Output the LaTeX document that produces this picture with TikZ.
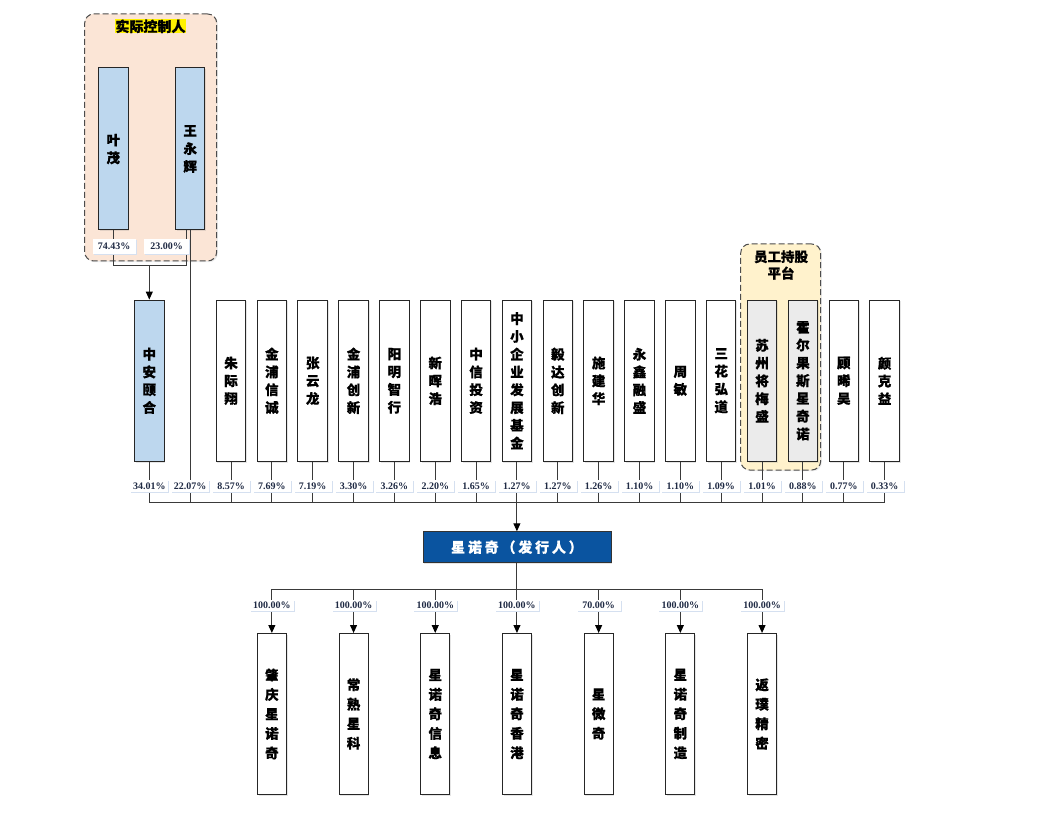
\documentclass[tikz,border=0pt]{standalone}
\usepackage{fontspec}
\setmainfont{Liberation Serif}
\newfontfamily\cjk{Noto Sans CJK SC}[BoldFeatures={FakeBold=0.6}]
\usetikzlibrary{arrows.meta,shadows}
\definecolor{ctrlbg}{HTML}{FBE5D6}
\definecolor{ltblue}{HTML}{BDD7EE}
\definecolor{esopbg}{HTML}{FFF2CC}
\definecolor{gbox}{HTML}{EBEBEB}
\definecolor{issuer}{HTML}{0A54A0}
\definecolor{lnc}{HTML}{3A3A3A}
\definecolor{pctc}{HTML}{1F2A44}
\definecolor{shd}{HTML}{D5E0F0}
\newcommand\lsp{\kern2.8pt}
\begin{document}
\begin{tikzpicture}[x=1pt,y=-1pt,
  ent/.style={draw=black!85, line width=1pt, fill=white, minimum width=29.5pt,
    minimum height=161.5pt, inner sep=0pt, align=center,
    font=\cjk\bfseries\fontsize{13.5}{17.8}\selectfont,
    drop shadow={opacity=0.2, shadow xshift=1.2pt, shadow yshift=-1.2pt, fill=black!50}},
  sub/.style={ent, minimum width=29pt, minimum height=161pt,
    font=\cjk\bfseries\fontsize{13.5}{19.5}\selectfont},
  pct/.style={fill=white, inner sep=0pt, minimum width=38pt, minimum height=12pt,
    font=\bfseries\fontsize{10}{11}\selectfont, text=pctc,
    drop shadow={opacity=1, shadow xshift=1pt, shadow yshift=-1pt, fill=shd}},
  ln/.style={draw=lnc, line width=1pt},
  arr/.style={ln, -{Triangle[length=8pt,width=7pt,fill=black,color=black]}},
  grp/.style={dash pattern=on 6pt off 3pt, draw=black!70, line width=1pt,
    rounded corners=9pt, inner sep=0pt,
    drop shadow={opacity=0.15, shadow xshift=1.2pt, shadow yshift=-1.2pt, fill=black!50}}]
\useasboundingbox[fill=white] (0,0) rectangle (1049,826);

% group backgrounds
\node[grp, fill=ctrlbg, minimum width=132pt, minimum height=247pt] (ctrl) at (150.7,137.5) {};
\node[fill=yellow, inner sep=0.3pt, font=\cjk\bfseries\fontsize{14}{16}\selectfont] (ctrlt) at (150.5,26.3) {实际控制人};
\node[grp, fill=esopbg, minimum width=80pt, minimum height=226pt] (esop) at (780.7,357) {};
\node[align=center, inner sep=0pt, font=\cjk\bfseries\fontsize{13.5}{16.7}\selectfont] (esopt) at (781,265) {员工持股\\平台};

% controllers
\node[ent, fill=ltblue, minimum height=162pt] (ym) at (113.3,149) {叶\\茂};
\node[ent, fill=ltblue, minimum height=162pt] (wyh) at (190.2,149) {王\\永\\辉};

% shareholders
\node[ent, fill=ltblue] (c0) at (149.3,380.8) {中\\安\\颐\\合};
\foreach \i/\t in {2/朱\\际\\翔, 3/金\\浦\\信\\诚, 4/张\\云\\龙, 5/金\\浦\\创\\新,
  6/阳\\明\\智\\行, 7/新\\晖\\浩, 8/中\\信\\投\\资, 9/中\\小\\企\\业\\发\\展\\基\\金,
  10/毅\\达\\创\\新, 11/施\\建\\华, 12/永\\鑫\\融\\盛, 13/周\\敏, 14/三\\花\\弘\\道,
  17/顾\\晞\\昊, 18/颜\\克\\益}
  \node[ent] (c\i) at ({149.3+40.85*\i},380.8) {\t};
\node[ent, fill=gbox] (c15) at ({149.3+40.85*15},380.8) {苏\\州\\将\\梅\\盛};
\node[ent, fill=gbox] (c16) at ({149.3+40.85*16},380.8) {霍\\尔\\果\\斯\\星\\奇\\诺};

% issuer
\node[fill=issuer, draw=black!80, line width=0.8pt, minimum width=188pt, minimum height=31pt,
  inner sep=0pt, text=white, font=\cjk\bfseries\fontsize{14}{16}\selectfont,
  drop shadow={opacity=0.2, shadow xshift=1.2pt, shadow yshift=-1.2pt, fill=black!50}]
  (iss) at (516.9,547.2) {星\lsp 诺\lsp 奇\lsp （\lsp 发\lsp 行\lsp 人\lsp ）};

% subsidiaries
\foreach \k/\t in {0/肇\\庆\\星\\诺\\奇, 1/常\\熟\\星\\科, 2/星\\诺\\奇\\信\\息,
  3/星\\诺\\奇\\香\\港, 4/星\\微\\奇, 5/星\\诺\\奇\\制\\造, 6/返\\璞\\精\\密}
  \node[sub] (s\k) at ({516.95+81.7*(\k-3)},714) {\t};

% bus coordinates
\coordinate (busT) at (0,266);
\coordinate (busM) at (0,502.7);
\coordinate (busB) at (0,589.3);

% top connectors
\draw[ln] (ym.south) -- (ym.south |- busT) -| ([xshift=-4pt]wyh.south);
\draw[arr] (c0.north |- busT) -- (c0.north);

% shareholder connectors
\foreach \i in {0,2,3,...,18}
  \draw[ln] (c\i.south) -- (c\i.south |- busM);
\draw[ln] (wyh.south) -- (wyh.south |- busM);
\draw[ln] (c0.south |- busM) -- (c18.south |- busM);
\draw[arr] (iss.north |- busM) -- (iss.north);

% subsidiary connectors
\draw[ln] (iss.south) -- (iss.south |- busB);
\draw[ln] (s0.north |- busB) -- (s6.north |- busB);
\foreach \k in {0,...,6}
  \draw[arr] (s\k.north |- busB) -- (s\k.north);

% percentage labels
\node[pct, minimum width=43pt, minimum height=15pt] (py) at (114,246.7) {74.43\%};
\node[pct, minimum width=45pt, minimum height=15pt] (pw) at (166.5,246.7) {23.00\%};
\foreach \i/\p in {0/34.01,1/22.07,2/8.57,3/7.69,4/7.19,5/3.30,6/3.26,7/2.20,8/1.65,
  9/1.27,10/1.27,11/1.26,12/1.10,13/1.10,14/1.09,15/1.01,16/0.88,17/0.77,18/0.33}
  \node[pct] (p\i) at ({149.3+40.85*\i},485.8) {\p\%};
\foreach \k/\p in {0/100.00,1/100.00,2/100.00,3/100.00,4/70.00,5/100.00,6/100.00}
  \node[pct, minimum width=44pt, minimum height=11.5pt] (q\k) at ({516.95+81.7*(\k-3)},605.5) {\p\%};
\end{tikzpicture}
\end{document}
